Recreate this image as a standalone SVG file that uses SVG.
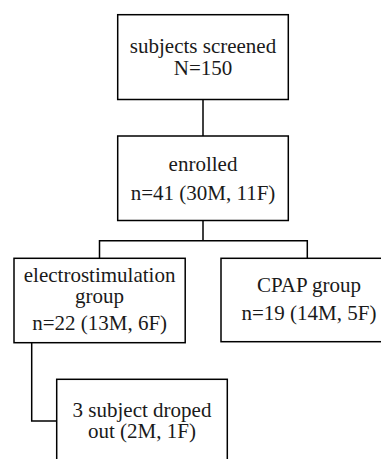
<svg xmlns="http://www.w3.org/2000/svg" width="381" height="459" viewBox="0 0 381 459">
<style>
.box{fill:#fff;stroke:#000;stroke-width:1.5}
.ln{fill:none;stroke:#000;stroke-width:1.5}
</style>
<rect width="381" height="459" fill="#fff"/>
<g id="connectors">
<path class="ln" d="M203,99.5V136"/>
<path class="ln" d="M203,220.5V240.7M99.5,258.3V240.7H307.3V258.3"/>
<path class="ln" d="M31.7,342.7V421H56.7"/>
</g>
<g id="screened">
<rect class="box" x="117.7" y="14.7" width="170.6" height="84.8"/>
<text x="203" y="53.3" font-family="Liberation Serif" font-size="21" fill="#1a1a1a" text-anchor="middle">subjects screened</text>
<text x="203" y="74.5" font-family="Liberation Serif" font-size="21" fill="#1a1a1a" text-anchor="middle">N=150</text>
</g>
<g id="enrolled">
<rect class="box" x="117.7" y="136" width="170.6" height="84.5"/>
<text x="203" y="170.7" font-family="Liberation Serif" font-size="21" fill="#1a1a1a" text-anchor="middle">enrolled</text>
<text x="203" y="200" font-family="Liberation Serif" font-size="21" fill="#1a1a1a" text-anchor="middle">n=41 (30M, 11F)</text>
</g>
<g id="electro">
<rect class="box" x="14" y="258.3" width="171.2" height="84.4"/>
<text x="99.6" y="281.7" font-family="Liberation Serif" font-size="21" fill="#1a1a1a" text-anchor="middle">electrostimulation</text>
<text x="99.6" y="303.3" font-family="Liberation Serif" font-size="21" fill="#1a1a1a" text-anchor="middle">group</text>
<text x="99.6" y="329.5" font-family="Liberation Serif" font-size="21" fill="#1a1a1a" text-anchor="middle">n=22 (13M, 6F)</text>
</g>
<g id="cpap">
<rect class="box" x="221" y="258.3" width="174" height="83.4"/>
<text x="309" y="291.7" font-family="Liberation Serif" font-size="21" fill="#1a1a1a" text-anchor="middle">CPAP group</text>
<text x="309" y="320" font-family="Liberation Serif" font-size="21" fill="#1a1a1a" text-anchor="middle">n=19 (14M, 5F)</text>
</g>
<g id="dropped">
<rect class="box" x="56.7" y="379.3" width="170.6" height="86"/>
<text x="142" y="416.7" font-family="Liberation Serif" font-size="21" fill="#1a1a1a" text-anchor="middle">3 subject droped</text>
<text x="142" y="438.3" font-family="Liberation Serif" font-size="21" fill="#1a1a1a" text-anchor="middle">out (2M, 1F)</text>
</g>
</svg>
